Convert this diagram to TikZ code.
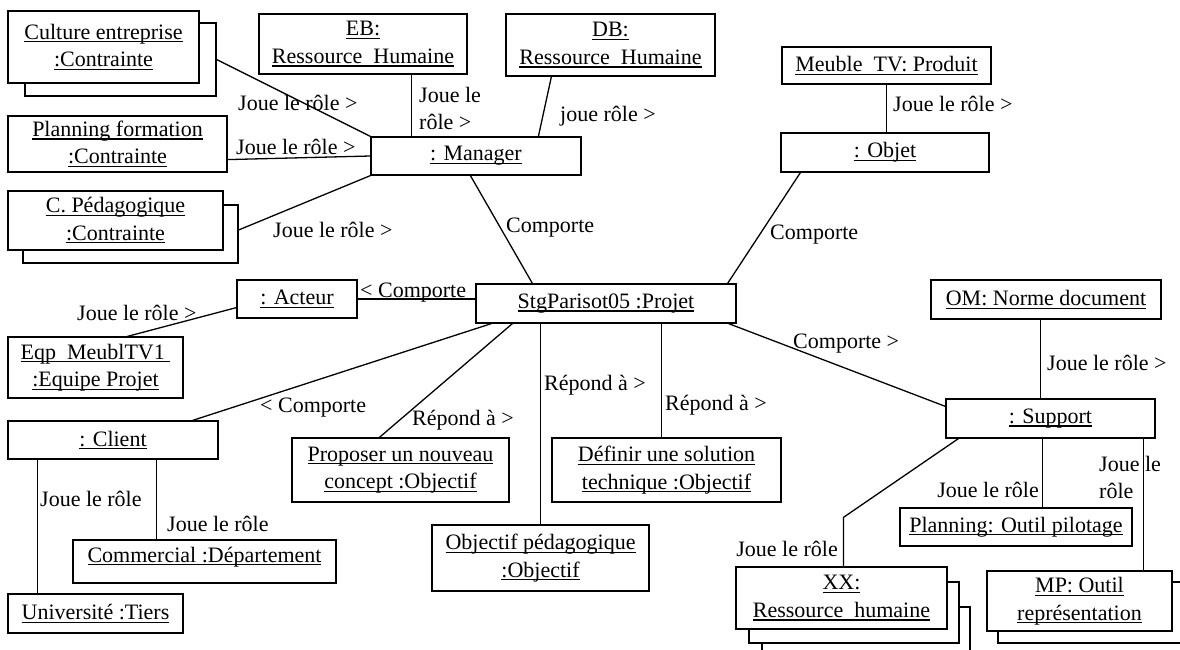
\documentclass[tikz,border=0pt]{standalone}
\usepackage{fontspec}
\setmainfont{Liberation Serif}
\usetikzlibrary{calc}
\newcommand\ulx[1]{\leavevmode\setbox0\hbox{#1}\rlap{\vrule width\wd0 height -2pt depth 3.2pt}\box0}
\begin{document}
\begin{tikzpicture}[x=1pt,y=-1pt,
  obj/.style={draw, line width=1.2pt, fill=white, inner sep=0pt, align=center, font=\fontsize{22}{27.5}\selectfont},
  lbl/.style={inner sep=0pt, align=left, font=\fontsize{22}{27.5}\selectfont},
  conn/.style={line width=1.3pt}]
\useasboundingbox[fill=white] (0,0) rectangle (1180,650);

% ---- back boxes of multi-objects ----
\node[obj, minimum width=191pt, minimum height=73pt] (cultB) at (120.5,59.5) {};
\node[obj, minimum width=215pt, minimum height=58pt] (cpB) at (130.5,234) {};
\node[obj, minimum width=185pt, minimum height=61pt] (mpB) at (1090.5,612.5) {};
\node[obj, minimum width=208pt, minimum height=61pt] (xxB2) at (866,637.5) {};
\node[obj, minimum width=210pt, minimum height=61pt] (xxB1) at (854,612.5) {};

% ---- front boxes ----
\node[obj, minimum width=191pt, minimum height=72pt] (cult) at (103.5,47) {\ulx{Culture entreprise}\\\ulx{:Contrainte}};
\node[obj, minimum width=219pt, minimum height=56pt] (planf) at (117.5,144) {\ulx{Planning formation}\\\ulx{:Contrainte}};
\node[obj, minimum width=215pt, minimum height=59pt] (cp) at (115.5,220.5) {\ulx{C. Pédagogique}\\\ulx{:Contrainte}};
\node[obj, minimum width=208pt, minimum height=60pt] (eb) at (363,44) {\ulx{EB:}\\\ulx{Ressource\ \ Humaine}};
\node[obj, minimum width=209pt, minimum height=62pt] (db) at (610.5,45) {\ulx{DB:}\\\ulx{Ressource\ \ Humaine}};
\node[obj, minimum width=210pt, minimum height=38pt] (mgr) at (476,156) {\ulx{: Manager}};
\node[obj, minimum width=209pt, minimum height=37pt] (meuble) at (886.5,65.5) {\ulx{Meuble\ \ TV: Produit}};
\node[obj, minimum width=208pt, minimum height=39pt] (objet) at (885,152.5) {\ulx{: Objet}};
\node[obj, minimum width=260pt, minimum height=39pt] (proj) at (606,303.5) {\ulx{StgParisot05 :Projet}};
\node[obj, minimum width=120pt, minimum height=38pt] (act) at (297,299) {\ulx{: Acteur}};
\node[obj, minimum width=175pt, minimum height=61pt] (eqp) at (95.5,367.5) {\ulx{Eqp\ \ MeublTV1\ }\\\ulx{:Equipe Projet}};
\node[obj, minimum width=210pt, minimum height=38pt] (client) at (113,440) {\ulx{: Client}};
\node[obj, minimum width=217pt, minimum height=64pt] (prop) at (400.5,470) {\ulx{Proposer un nouveau}\\\ulx{concept :Objectif}};
\node[obj, minimum width=217pt, minimum height=66pt] (objp) at (540.5,558) {\ulx{Objectif pédagogique}\\\ulx{:Objectif}};
\node[obj, minimum width=229pt, minimum height=64pt] (def) at (666.5,470) {\ulx{Définir une solution}\\\ulx{technique :Objectif}};
\node[obj, minimum width=209pt, minimum height=39pt] (sup) at (1050.5,418.5) {\ulx{: Support}};
\node[obj, minimum width=230pt, minimum height=39pt] (om) at (1046,299.5) {\ulx{OM: Norme document}};
\node[obj, minimum width=232pt, minimum height=38pt] (plan) at (1016,527) {\ulx{Planning: Outil pilotage}};
\node[obj, minimum width=185pt, minimum height=60pt] (mp) at (1079.5,601) {\ulx{MP: Outil}\\\ulx{représentation}};
\node[obj, minimum width=211pt, minimum height=62pt] (xx) at (841.5,598) {\ulx{XX:}\\\ulx{Ressource\ \ humaine}};
\node[obj, minimum width=175pt, minimum height=39pt] (univ) at (95.5,613.5) {\ulx{Université :Tiers}};
\node[obj, minimum width=263pt, minimum height=43pt, text height=15pt, text depth=14pt] (com) at (204.5,561.5) {\ulx{Commercial :Département}};

% ---- helper coordinates ----
\path ($(mgr.north west)+(41,0)$) coordinate (ebm);
\path ($(meuble.south)$) coordinate (meo);
\path ($(act.east)$) coordinate (acp);
\path ($(proj.south west)+(65,0)$) coordinate (pob);
\path ($(proj.south west)+(186,0)$) coordinate (pdf);
\path ($(sup.north west)+(95,0)$) coordinate (som);
\path ($(sup.south west)+(97,0)$) coordinate (spl);
\path ($(sup.south east)+(-12,0)$) coordinate (smp);
\path ($(xx.north west)+(108,-49)$) coordinate (xbend);
\path ($(client.south west)+(30,0)$) coordinate (cun);
\path ($(client.south west)+(149,0)$) coordinate (cco);

% ---- connectors ----
\draw[conn] (cultB.east) -- (mgr.north west);
\draw[conn] ($(planf.south east)+(0,-13)$) -- (mgr.west);
\draw[conn] ($(cpB.east)+(0,-4)$) -- (mgr.south west);
\draw[conn] (ebm) -- (ebm |- eb.south);
\draw[conn] ($(db.south west)+(46,0)$) -- ($(mgr.north west)+(168,0)$);
\draw[conn] ($(mgr.south west)+(100,0)$) -- ($(proj.north west)+(57,0)$);
\draw[conn] (meo) -- (meo |- objet.north);
\draw[conn] ($(objet.south west)+(20,0)$) -- ($(proj.north east)+(-9,0)$);
\draw[conn] (acp) -- (acp -| proj.west);
\draw[conn] ($(act.south west)+(0,-11)$) -- ($(eqp.north west)+(120,0)$);
\draw[conn] ($(proj.south west)+(16,0)$) -- ($(client.north east)+(-26,0)$);
\draw[conn] ($(proj.south west)+(37,0)$) -- ($(prop.north west)+(88,0)$);
\draw[conn] (pob) -- (pob |- objp.north);
\draw[conn] (pdf) -- (pdf |- def.north);
\draw[conn] ($(proj.south east)+(-8,0)$) -- ($(sup.north west)+(0,8)$);
\draw[conn] (som) -- (som |- om.south);
\draw[conn] (spl) -- (spl |- plan.north);
\draw[conn] (smp) -- (smp |- mp.north);
\draw[conn] ($(sup.south west)+(13,0)$) -- (xbend) -- (xbend |- xx.north);
\draw[conn] (cun) -- (cun |- univ.north);
\draw[conn] (cco) -- (cco |- com.north);

% ---- connector labels ----
\node[lbl, anchor=base west] (l1) at (238,111) {Joue le rôle >};
\node[lbl, anchor=base west] (l2) at (236,154) {Joue le rôle >};
\node[lbl, anchor=base west] (l3) at (273,237) {Joue le rôle >};
\node[lbl, anchor=west] (l4) at (419,108.5) {Joue le\\rôle >};
\node[lbl, anchor=base west] (l5) at (560,122) {joue rôle >};
\node[lbl, anchor=base west] (l6) at (506,232) {Comporte};
\node[lbl, anchor=base west] (l7) at (893,112) {Joue le rôle >};
\node[lbl, anchor=base west] (l8) at (770,239) {Comporte};
\node[lbl, anchor=base west] (l9) at (360,297) {< Comporte};
\node[lbl, anchor=base west] (l10) at (77,320) {Joue le rôle >};
\node[lbl, anchor=base west] (l11) at (260,412) {< Comporte};
\node[lbl, anchor=base west] (l12) at (412,425) {Répond à >};
\node[lbl, anchor=base west] (l13) at (544,390) {Répond à >};
\node[lbl, anchor=base west] (l14) at (665,410) {Répond à >};
\node[lbl, anchor=base west] (l15) at (793,348) {Comporte >};
\node[lbl, anchor=base west] (l16) at (1047,370) {Joue le rôle >};
\node[lbl, anchor=base east] (l17) at (1039,497) {Joue le rôle};
\node[lbl, anchor=west] (l18) at (1099,477.5) {Joue le\\rôle};
\node[lbl, anchor=base east] (l19) at (838,556) {Joue le rôle};
\node[lbl, anchor=base west] (l20) at (40,506) {Joue le rôle};
\node[lbl, anchor=base west] (l21) at (167,531) {Joue le rôle};
\end{tikzpicture}
\end{document}
